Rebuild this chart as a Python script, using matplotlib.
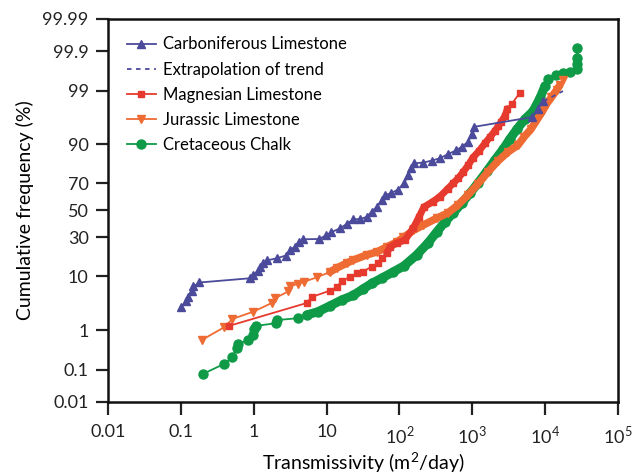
import math
import numpy as np
import matplotlib
matplotlib.use("Agg")
import matplotlib.pyplot as plt
from matplotlib.ticker import FixedLocator, FixedFormatter

plt.rcParams['font.family'] = ['Lato', 'DejaVu Sans']
plt.rcParams['mathtext.fontset'] = 'custom'
plt.rcParams['mathtext.rm'] = 'Lato'

# ---------------- data (transmissivity m2/day, cumulative frequency %) -------------
carb_T = [0.102, 0.118, 0.127, 0.140, 0.149, 0.180, 0.889, 0.99, 1.13, 1.22, 1.36, 1.52,
          2.09, 2.77, 3.15, 3.69, 4.12, 4.75, 7.87, 9.82, 11.5, 15.3, 18.9, 23.3, 28.8,
          35.5, 41.6, 48.8, 57.1, 63.4, 76.6, 95.5, 115.5, 132.4, 144.2, 158.5, 212.6,
          280, 360.5, 468.5, 597, 722, 881, 982, 1072, 6531, 7980, 9490]
carb_P = [3.05, 3.9, 4.7, 6.0, 7.0, 8.1, 9.4, 10.5, 12.1, 13.8, 15.3, 16.6,
          17.7, 19.1, 22.2, 24.1, 27.2, 28.8, 29.0, 31.4, 33.5, 36.5, 39.7, 43.2, 43.4,
          45.0, 49.1, 52.7, 58.1, 61.8, 63.1, 65.8, 70.1, 75.5, 79.5, 82.0, 82.4,
          83.4, 84.5, 86.4, 87.8, 89.3, 90.9, 93.1, 94.8, 96.5, 97.6, 98.3]
extrap_T = [9490, 17580]
extrap_P = [98.3, 98.98]

mag_T = [0.458, 5.34, 6.25, 11.1, 13.9, 16.1, 20.97, 25.9, 31.9, 41.6, 51.3, 57.1, 66.9,
         74.2, 92.6, 119, 155, 185.6, 217, 289, 360, 464, 543, 637, 752, 881, 1022,
         1236, 1494, 1750, 2049, 2290, 2517, 2810, 3042, 3508, 4515]
mag_P = [1.25, 3.62, 4.65, 5.97, 6.87, 8.55, 9.83, 11.1, 11.8, 13.8, 15.3, 17.7, 20.3,
         23.9, 26.4, 28.3, 36.7, 45.0, 52.7, 56.9, 60.7, 66.5, 70.0, 73.3, 77.3, 81.1, 84.8,
         87.6, 90.4, 92.3, 93.9, 95.0, 95.8, 96.7, 97.6, 98.1, 98.9]

jur_T = [0.195, 0.391, 0.511, 0.987, 1.77, 1.99, 2.98, 3.15, 3.99, 4.90, 7.32, 11.1, 13.8,
         18.9, 23.3, 35.5, 48.8, 66.9, 91.7, 113, 155, 213, 325, 464, 637, 873, 1198, 1643,
         2254, 3090, 4240, 5125, 6395, 7727, 9057, 10500, 12220, 14400, 15990, 17580]
jur_P = [0.60, 1.16, 1.76, 2.47, 3.62, 4.47, 5.8, 7.0, 7.7, 8.3, 9.7, 11.6, 13.2,
         15.3, 16.8, 19.4, 21.0, 23.9, 27.0, 30.0, 34.9, 38.9, 44.0, 48.1, 54.3, 61.8, 69.7,
         77.3, 83.2, 87.2, 89.8, 92.3, 94.3, 96.1, 97.2, 98.1, 98.6, 99.04, 99.26, 99.44]

chalk_T = [0.201, 0.391, 0.511, 0.584, 0.614, 0.835, 0.987, 1.025, 1.075, 2.02, 2.12, 3.99,
           5.34, 7.63, 11.1, 16.1, 23.0, 31.6, 42.0, 57.6, 81.6, 115.5, 172.6, 246.6, 325,
           422, 548, 722, 930, 1198, 1577, 2049, 2665, 3292, 4108, 5288, 6808, 8496, 9950,
           11110, 14090, 17580, 21930, 27360, 27360, 27360, 27360]
chalk_P = [0.075, 0.144, 0.222, 0.38, 0.477, 0.596, 0.78, 1.07, 1.25, 1.43, 1.67, 1.82,
           2.12, 2.47, 3.19, 4.11, 4.94, 6.37, 7.87, 9.5, 11.6, 14.1, 19.4, 26.4, 33.8,
           41.2, 48.1, 55.8, 63.1, 70.3, 77.6, 83.7, 88.4, 91.8, 94.3, 96.2, 97.3, 98.55, 99.22,
           99.47, 99.57, 99.61, 99.64, 99.70, 99.78, 99.85, 99.92]

# ranges where the original samples are so dense that the markers merge into a band
mag_dense = (60, 3100)
jur_dense = (10, 16000)
chalk_dense = (5, 10000)

y_ticks = [0.01, 0.1, 1, 10, 30, 50, 70, 90, 99, 99.9, 99.99]
y_labels = ['0.01', '0.1', '1', '10', '30', '50', '70', '90', '99', '99.9', '99.99']
x_ticks = [0.01, 0.1, 1, 10, 100, 1000, 10000, 100000]
x_labels = ['0.01', '0.1', '1', '10', r'$10^2$', r'$10^3$', r'$10^4$', r'$10^5$']


# ---------------- normal-probability scale ----------------
def _ppf(p):
    p = np.clip(np.asarray(p, dtype=float), 1e-12, 1 - 1e-12)
    a = [-3.969683028665376e+01, 2.209460984245205e+02, -2.759285104469687e+02,
         1.383577518672690e+02, -3.066479806614716e+01, 2.506628277459239e+00]
    b = [-5.447609879822406e+01, 1.615858368580409e+02, -1.556989798598866e+02,
         6.680131188771972e+01, -1.328068155288572e+01]
    c = [-7.784894002430293e-03, -3.223964580411365e-01, -2.400758277161838e+00,
         -2.549732539343734e+00, 4.374664141464968e+00, 2.938163982698783e+00]
    d = [7.784695709041462e-03, 3.224671290700398e-01, 2.445134137142996e+00,
         3.754408661907416e+00]
    plow = 0.02425
    out = np.empty_like(p)
    lo = p < plow
    hi = p > 1 - plow
    mid = ~(lo | hi)
    q = np.sqrt(-2 * np.log(p[lo]))
    out[lo] = (((((c[0]*q+c[1])*q+c[2])*q+c[3])*q+c[4])*q+c[5]) / \
              ((((d[0]*q+d[1])*q+d[2])*q+d[3])*q+1)
    q = np.sqrt(-2 * np.log(1 - p[hi]))
    out[hi] = -(((((c[0]*q+c[1])*q+c[2])*q+c[3])*q+c[4])*q+c[5]) / \
               ((((d[0]*q+d[1])*q+d[2])*q+d[3])*q+1)
    q = p[mid] - 0.5
    r = q * q
    out[mid] = (((((a[0]*r+a[1])*r+a[2])*r+a[3])*r+a[4])*r+a[5])*q / \
               (((((b[0]*r+b[1])*r+b[2])*r+b[3])*r+b[4])*r+1)
    return out


_erf = np.vectorize(math.erf)


def forward(pct):
    return _ppf(np.asarray(pct, dtype=float) / 100.0)


def inverse(z):
    z = np.asarray(z, dtype=float)
    return 50.0 * (1.0 + _erf(z / math.sqrt(2.0)))


def band(ax, T, P, rng, color, lw, z):
    T = np.asarray(T)
    P = np.asarray(P)
    m = (T >= rng[0]) & (T <= rng[1])
    ax.plot(T[m], P[m], color=color, lw=lw, solid_capstyle='round',
            solid_joinstyle='round', zorder=z)


# ---------------- plot ----------------
fig = plt.figure(figsize=(6.41, 4.76), dpi=100)
ax = fig.add_axes([0.1685, 0.1555, 0.7956, 0.8046])
ax.set_xscale('log')
ax.set_yscale('function', functions=(forward, inverse))

purple = '#4B4A9B'
red = '#E63A2E'
orange = '#EE6B33'
green = '#0E9A47'

ax.plot(carb_T, carb_P, color=purple, marker='^', ms=6, lw=1.3,
        label='Carboniferous Limestone', zorder=5)
ax.plot(extrap_T, extrap_P, color=purple, ls=(0, (2.5, 2.5)), lw=1.3,
        label='Extrapolation of trend', zorder=5)
ax.plot(mag_T, mag_P, color=red, marker='s', ms=5, lw=1.3,
        label='Magnesian Limestone', zorder=4)
band(ax, mag_T, mag_P, mag_dense, red, 5, 4)
ax.plot(jur_T, jur_P, color=orange, marker='v', ms=6, lw=1.3,
        label='Jurassic Limestone', zorder=3)
band(ax, jur_T, jur_P, jur_dense, orange, 5.5, 3)
ax.plot(chalk_T, chalk_P, color=green, marker='o', ms=6.5, lw=1.3,
        label='Cretaceous Chalk', zorder=2)
band(ax, chalk_T, chalk_P, chalk_dense, green, 6.5, 2)

ax.set_xlim(0.01, 1e5)
ax.set_ylim(0.01, 99.99)
ax.yaxis.set_major_locator(FixedLocator(y_ticks))
ax.yaxis.set_major_formatter(FixedFormatter(y_labels))
ax.yaxis.set_minor_locator(FixedLocator([]))
ax.xaxis.set_major_locator(FixedLocator(x_ticks))
ax.xaxis.set_major_formatter(FixedFormatter(x_labels))
ax.xaxis.set_minor_locator(FixedLocator([]))

ax.tick_params(axis='y', direction='out', length=9, width=1.6, labelsize=13,
               colors='#222222', pad=5)
ax.tick_params(axis='x', direction='out', length=9, width=1.6, labelsize=13,
               colors='#222222', pad=7)
for s in ax.spines.values():
    s.set_linewidth(1.8)
    s.set_color('#111111')

ax.set_xlabel('Transmissivity (m$^2$/day)', fontsize=14, labelpad=3)
ax.set_ylabel('Cumulative frequency (%)', fontsize=14, labelpad=6)

leg = ax.legend(loc='upper left', bbox_to_anchor=(0.015, 0.985), frameon=False,
                fontsize=12, handlelength=1.7, handletextpad=0.45,
                labelspacing=0.55, borderaxespad=0.3)

fig.savefig('out.png', dpi=100)
